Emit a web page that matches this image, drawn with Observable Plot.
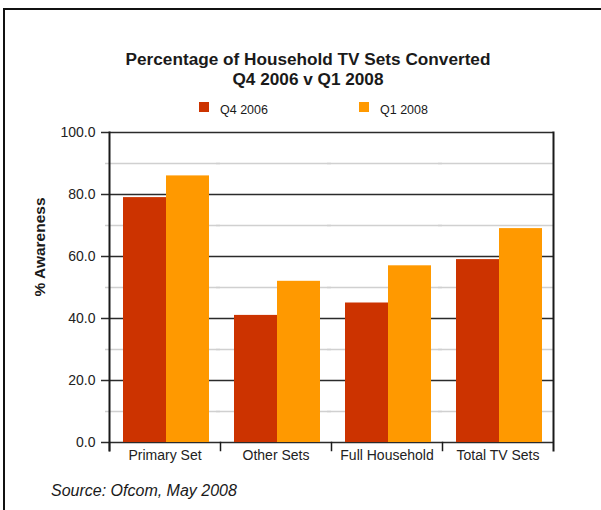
<!DOCTYPE html>
<html>
<head>
<meta charset="utf-8">
<script src="https://cdn.jsdelivr.net/npm/d3@7"></script>
<script src="https://cdn.jsdelivr.net/npm/@observablehq/plot@0.6"></script>
<style>
  html, body { margin: 0; padding: 0; background: #fff; overflow: hidden; }
  body { width: 601px; height: 510px; font-family: "Liberation Sans", Arial, Helvetica, sans-serif; color: #1a1a1a; }
  #wrap { position: relative; width: 601px; height: 510px; }
  #chart { position: absolute; left: 0; top: 0; }
  .abs { position: absolute; white-space: nowrap; }
  #border { position: absolute; left: 3px; top: 8px; width: 700px; height: 600px; border-left: 2.5px solid #111; border-top: 2.5px solid #111; pointer-events: none; }
  .title { left: 0; width: 616px; text-align: center; font-weight: bold; font-size: 17.2px; line-height: 19.5px; }
  .sw { position: absolute; width: 10px; height: 10px; top: 102px; }
  .lg { position: absolute; top: 103.5px; font-size: 12.5px; line-height: 13px; }
  #ylab { left: 40px; top: 247px; transform: translate(-50%, -50%) rotate(-90deg); font-weight: bold; font-size: 15.5px; line-height: 16px; }
  #caption { left: 51px; top: 482.5px; font-style: italic; font-size: 16px; line-height: 16px; }
</style>
</head>
<body>
<div id="wrap">
  <div id="chart"></div>
  <div class="abs title" style="top:50px">Percentage of Household TV Sets Converted</div>
  <div class="abs title" style="top:69.5px">Q4 2006 v Q1 2008</div>
  <div id="legend"></div>
  <div id="ylab" class="abs">% Awareness</div>
  <div id="caption" class="abs">Source: Ofcom, May 2008</div>
  <div id="border"></div>
</div>
<script>
// ---- data ----
const categories = ["Primary Set", "Other Sets", "Full Household", "Total TV Sets"];
const seriesNames = ["Q4 2006", "Q1 2008"];
const q4_2006 = [79, 41, 45, 59];
const q1_2008 = [86, 52, 57, 69];
const yTicks = [0, 20, 40, 60, 80, 100];
const yMinorTicks = [10, 30, 50, 70, 90];
const seriesColors = ["#CC3300", "#FF9900"];

const rows = [];
categories.forEach((c, i) => {
  rows.push({category: c, series: seriesNames[0], value: q4_2006[i]});
  rows.push({category: c, series: seriesNames[1], value: q1_2008[i]});
});

const W = 601, H = 510;
const mL = 108, mR = 47, mT = 132, mB = 68;
const innerH = H - mT - mB;

const chart = Plot.plot({
  width: W,
  height: H,
  marginLeft: mL,
  marginRight: mR,
  marginTop: mT,
  marginBottom: mB,
  style: {fontFamily: "'Liberation Sans', Arial, Helvetica, sans-serif", fontSize: "14px", color: "#222", background: "transparent", overflow: "visible"},
  fx: {domain: categories, padding: 0, axis: null, label: null},
  x: {domain: seriesNames, paddingInner: 0, paddingOuter: 0.27, align: 0.56, axis: null},
  y: {domain: [0, 100], axis: null},
  color: {domain: seriesNames, range: seriesColors},
  marks: [
    Plot.ruleY(yMinorTicks, {stroke: "#d0d0d0", strokeWidth: 1.5, insetLeft: -4}),
    Plot.ruleY(yTicks, {stroke: "#2b2b2b", strokeWidth: 1.5}),
    Plot.barY(rows, {fx: "category", x: "series", y: "value", fill: "series"}),
    Plot.axisY(yTicks, {tickSize: 8, tickPadding: 6, tickFormat: d3.format(".1f"), stroke: "#2b2b2b", strokeWidth: 1.5, fontSize: 14, label: null}),
    Plot.frame({anchor: "left", insetTop: innerH, insetBottom: -8, stroke: "#1a1a1a", strokeWidth: 1.5}),
    Plot.frame({anchor: "left", facetAnchor: "left", insetBottom: -8, stroke: "#1a1a1a", strokeWidth: 2}),
    Plot.frame({anchor: "right", facetAnchor: "right", insetBottom: -8, stroke: "#1a1a1a", strokeWidth: 2}),
    Plot.axisFx({anchor: "bottom", tickSize: 0, tickPadding: 8, fontSize: 14, label: null})
  ]
});
document.getElementById("chart").appendChild(chart);

// legend (HTML)
const legend = document.getElementById("legend");
const swX = [199, 359], txX = [220, 380];
seriesNames.forEach((s, i) => {
  const sw = document.createElement("div");
  sw.className = "sw";
  sw.style.left = swX[i] + "px";
  sw.style.background = seriesColors[i];
  legend.appendChild(sw);
  const t = document.createElement("div");
  t.className = "lg";
  t.style.left = txX[i] + "px";
  t.textContent = s;
  legend.appendChild(t);
});
</script>
</body>
</html>
